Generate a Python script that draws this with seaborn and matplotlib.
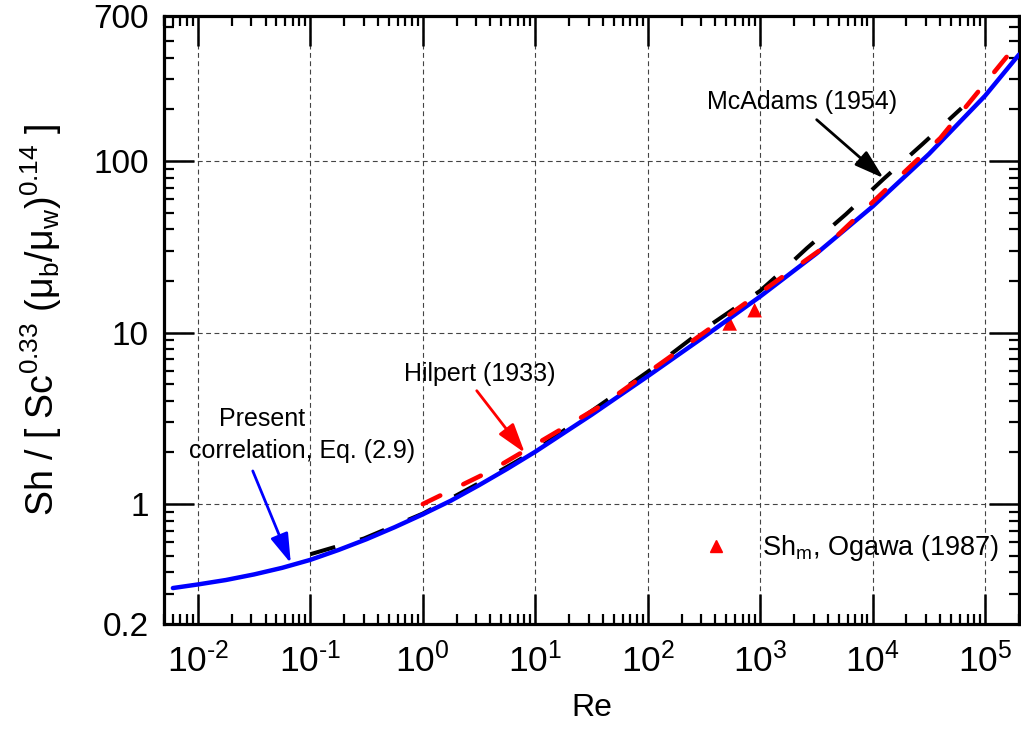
import matplotlib
matplotlib.use("Agg")
import matplotlib.pyplot as plt
import seaborn as sns
import numpy as np
import pandas as pd
from matplotlib.ticker import FixedLocator, FixedFormatter, NullFormatter
from matplotlib.lines import Line2D

# ---------------- data ----------------
re_present = [0.006, 0.01, 0.0178, 0.0316, 0.0562, 0.1, 0.178, 0.316, 0.562, 1,
              1.78, 3.16, 5.62, 10, 31.6, 100, 316, 1000, 3160, 1e4, 31600, 1e5, 2e5]
sh_present = [0.324, 0.340, 0.361, 0.389, 0.425, 0.473, 0.540, 0.624, 0.733, 0.871,
              1.047, 1.288, 1.603, 2.018, 3.311, 5.559, 9.44, 16.22, 28.84, 54.3,
              109.6, 239.9, 416.9]

re_hilpert = [1, 4, 40, 4000, 40000, 2e5]
sh_hilpert = [1.0, 1.56, 3.8, 32.6, 136.0, 495.0]

re_mcadams = [0.1, 0.3, 1, 3, 10, 30, 100, 300, 1000, 1500, 2600, 5800, 12500,
              27600, 61600]
sh_mcadams = [0.51, 0.63, 0.88, 1.3, 2.05, 3.4, 5.9, 10.2, 17.5, 22.2, 31.0, 49.0,
              78.5, 125.0, 203.0]

re_ogawa = [536, 893]
sh_ogawa = [11.3, 13.5]

x_ticks = [1e-2, 1e-1, 1e0, 1e1, 1e2, 1e3, 1e4, 1e5]
x_tick_labels = [r"$10^{\text{-}2}$", r"$10^{\text{-}1}$", r"$10^{0}$", r"$10^{1}$",
                 r"$10^{2}$", r"$10^{3}$", r"$10^{4}$", r"$10^{5}$"]
y_ticks = [0.2, 1, 10, 100, 700]
y_tick_labels = ["0.2", "1", "10", "100", "700"]

# ---------------- style ----------------
sns.set_style("white")
plt.rcParams["font.family"] = ["Liberation Sans", "DejaVu Sans"]
plt.rcParams["mathtext.fontset"] = "custom"
plt.rcParams["mathtext.rm"] = "Liberation Sans"
plt.rcParams["mathtext.default"] = "regular"
plt.rcParams["lines.scale_dashes"] = False
for key in ("text.color", "axes.labelcolor", "xtick.color", "ytick.color",
            "xtick.labelcolor", "ytick.labelcolor", "axes.edgecolor"):
    plt.rcParams[key] = "black"
for ax_ in ("xtick", "ytick"):
    for side in (("bottom", "top") if ax_ == "xtick" else ("left", "right")):
        plt.rcParams[f"{ax_}.{side}"] = True
        plt.rcParams[f"{ax_}.minor.{side}"] = True
        plt.rcParams[f"{ax_}.major.{side}"] = True

fig = plt.figure(figsize=(10.21, 7.44), dpi=100)
ax = fig.add_axes([0.1606, 0.1613, 0.8374, 0.8172])
ax.set_xscale("log")
ax.set_yscale("log")

df_m = pd.DataFrame({"Re": re_mcadams, "Sh": sh_mcadams})
df_p = pd.DataFrame({"Re": re_present, "Sh": sh_present})
df_h = pd.DataFrame({"Re": re_hilpert, "Sh": sh_hilpert})
df_o = pd.DataFrame({"Re": re_ogawa, "Sh": sh_ogawa})

sns.scatterplot(data=df_o, x="Re", y="Sh", ax=ax, marker="^", s=110, color="#ff0000",
                edgecolor="none", zorder=2, legend=False)
sns.lineplot(data=df_m, x="Re", y="Sh", ax=ax, color="black", lw=2.9, sort=False,
             estimator=None, zorder=3)
ax.lines[-1].set_dashes((18.7, 18.7))
ax.lines[-1].set_dash_capstyle("butt")
sns.lineplot(data=df_p, x="Re", y="Sh", ax=ax, color="#0000ff", lw=3.2, sort=False,
             estimator=None, zorder=4)
sns.lineplot(data=df_h, x="Re", y="Sh", ax=ax, color="#ff0000", lw=3.3, sort=False,
             estimator=None, zorder=5)
ax.lines[-1].set_dashes((14.0, 18.5))
ax.lines[-1].set_dash_capstyle("round")

ax.set_xlim(5e-3, 2e5)
ax.set_ylim(0.2, 700)

# ticks
ax.xaxis.set_major_locator(FixedLocator(x_ticks))
ax.xaxis.set_major_formatter(FixedFormatter(x_tick_labels))
ax.xaxis.set_minor_locator(FixedLocator([m * 10.0 ** k for k in range(-3, 6)
                                         for m in range(2, 10)]))
ax.xaxis.set_minor_formatter(NullFormatter())
ax.yaxis.set_major_locator(FixedLocator(y_ticks))
ax.yaxis.set_major_formatter(FixedFormatter(y_tick_labels))
ax.yaxis.set_minor_locator(FixedLocator([m * 10.0 ** k for k in range(-1, 3)
                                         for m in range(2, 10)]))
ax.yaxis.set_minor_formatter(NullFormatter())

ax.tick_params(which="both", direction="in", top=True, right=True, bottom=True,
               left=True, color="black", labelcolor="black")
ax.tick_params(which="major", length=21.5, width=1.8)
ax.tick_params(which="minor", length=7.2, width=1.6)
ax.tick_params(axis="x", which="major", labelsize=25.5, pad=13)
ax.tick_params(axis="y", which="major", labelsize=24, pad=11)

for sp in ax.spines.values():
    sp.set_linewidth(2.3)
    sp.set_color("black")

ax.grid(True, which="major", color="#444444", lw=0.8, ls=(0, (3.5, 2.5)))
ax.set_axisbelow(True)

ax.set_xlabel("Re", fontsize=23, color="black")
ax.xaxis.set_label_coords(0.5, -0.114)
ax.set_ylabel(r"Sh / [ Sc$^{0.33}$ ($\mu_b$/$\mu_w$)$^{0.14}$ ]", fontsize=27,
              color="black")
ax.yaxis.set_label_coords(-0.117, 0.5)

# annotations
ann_font = 18
ax.text(2340, 221, "McAdams (1954)", fontsize=ann_font, ha="center", va="center",
        color="black")
ax.annotate("", xy=(12500, 79.5), xytext=(3180, 174),
            arrowprops=dict(arrowstyle="-|>,head_length=0.9,head_width=0.28",
                            mutation_scale=20, color="black", lw=2.0,
                            shrinkA=0, shrinkB=0))
ax.text(3.21, 5.76, "Hilpert (1933)", fontsize=ann_font, ha="center", va="center",
        color="black")
ax.annotate("", xy=(8.07, 1.99), xytext=(3.02, 4.58),
            arrowprops=dict(arrowstyle="-|>,head_length=0.9,head_width=0.28",
                            mutation_scale=20, color="#ff0000", lw=2.0,
                            shrinkA=0, shrinkB=0))
ax.text(0.037, 3.14, "Present", fontsize=ann_font, ha="center", va="center",
        color="black")
ax.text(0.084, 2.04, "correlation, Eq. (2.9)", fontsize=ann_font, ha="center",
        va="center", color="black")
ax.annotate("", xy=(0.0671, 0.452), xytext=(0.0308, 1.56),
            arrowprops=dict(arrowstyle="-|>,head_length=0.9,head_width=0.28",
                            mutation_scale=20, color="#0000ff", lw=2.0,
                            shrinkA=0, shrinkB=0))

handle = Line2D([], [], marker="^", ls="none", color="#ff0000", markersize=9)
leg = ax.legend([handle], [r"Sh$_m$, Ogawa (1987)"], loc="center left",
                bbox_to_anchor=(0.631, 0.125), frameon=False, fontsize=19.5,
                handlelength=0.9, handletextpad=1.25, borderpad=0, borderaxespad=0)
for t in leg.get_texts():
    t.set_color("black")

fig.savefig("out.png", dpi=100)
